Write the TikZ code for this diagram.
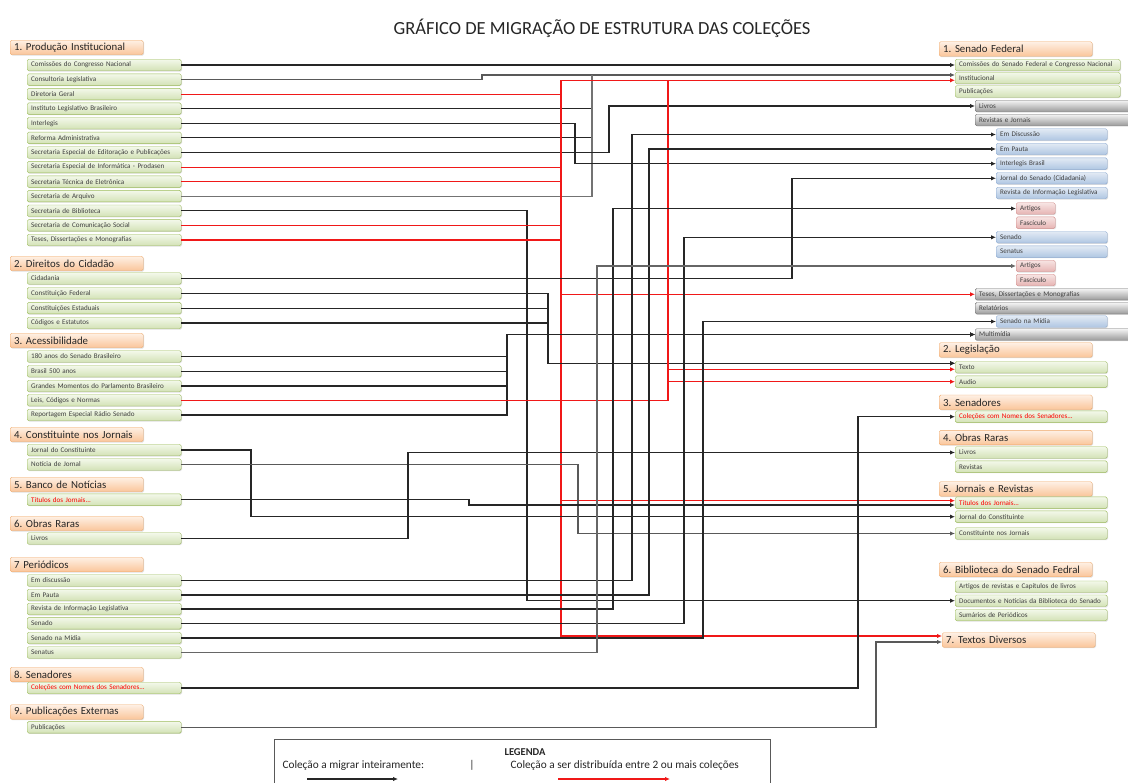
\documentclass[tikz,border=0pt]{standalone}
\usepackage{fontspec}
\setmainfont{Carlito}
\usetikzlibrary{arrows.meta,shadows}
\frenchspacing

\definecolor{grnA}{HTML}{F3F8EA}
\definecolor{grnB}{HTML}{D3E2B6}
\definecolor{grnD}{HTML}{9BBB59}
\definecolor{orgA}{HTML}{FEF0E4}
\definecolor{orgB}{HTML}{FAC59A}
\definecolor{orgD}{HTML}{F0A868}
\definecolor{gryA}{HTML}{F4F4F4}
\definecolor{gryB}{HTML}{9A9A9A}
\definecolor{gryD}{HTML}{6A6A6A}
\definecolor{bluA}{HTML}{E2EAF4}
\definecolor{bluB}{HTML}{AFC6E2}
\definecolor{bluD}{HTML}{8AA9D2}
\definecolor{pnkA}{HTML}{F7E4E3}
\definecolor{pnkB}{HTML}{E6B4B3}
\definecolor{pnkD}{HTML}{D38C8A}
\definecolor{redln}{HTML}{F01818}

\begin{document}
\begin{tikzpicture}[x=1pt, y=-1pt, >={Latex[length=5pt,width=4.5pt]},
    box/.style={anchor=west, rounded corners=1.5pt, inner xsep=4pt, inner ysep=0pt, minimum height=11.5pt, align=left, text=black!75, font=\fontsize{7.1}{8}\selectfont, drop shadow={shadow xshift=0.8pt, shadow yshift=-0.8pt, opacity=0.25}},
    litem/.style={box, draw=grnD, top color=grnA, bottom color=grnB, text width=146pt},
    ritem/.style={box, draw=grnD, top color=grnA, bottom color=grnB, text width=144pt},
    ritemw/.style={box, draw=grnD, top color=grnA, bottom color=grnB, text width=157pt},
    gitem/.style={box, draw=gryD, top color=gryA, bottom color=gryB, text width=147pt},
    bitem/.style={box, draw=bluD, top color=bluA, bottom color=bluB, text width=103pt},
    pitem/.style={box, draw=pnkD, top color=pnkA, bottom color=pnkB, text width=31pt},
    head/.style={box, draw=orgD, top color=orgA, bottom color=orgB, minimum height=14.5pt, text=black!85, font=\fontsize{10.8}{12}\selectfont},
    lhead/.style={head, text width=125pt},
    rhead/.style={head, text width=145pt},
    lnk/.style={draw=black!85, line width=1.15pt},
    blk/.style={lnk, ->},
    rln/.style={draw=redln, line width=1.15pt},
    rarr/.style={rln, ->},
    legtxt/.style={font=\fontsize{11.3}{13}\selectfont, text=black!85}]
  \useasboundingbox (0,0) rectangle (1128,783);
  \fill[white] (0,0) rectangle (1128,783);

  \node[font=\fontsize{18.5}{20}\selectfont, text=black!85] (title) at (602,28) {GRÁFICO DE MIGRAÇÃO DE ESTRUTURA DAS COLEÇÕES};

  % left column
  \node[lhead] (pi) at (10,47.5) {1. Produção Institucional};
  \node[litem] (pi1) at (27,65) {Comissões do Congresso Nacional};
  \node[litem] (pi2) at (27,79.6) {Consultoria Legislativa};
  \node[litem] (pi3) at (27,94.2) {Diretoria Geral};
  \node[litem] (pi4) at (27,108.7) {Instituto Legislativo Brasileiro};
  \node[litem] (pi5) at (27,123.3) {Interlegis};
  \node[litem] (pi6) at (27,137.9) {Reforma Administrativa};
  \node[litem] (pi7) at (27,152.5) {Secretaria Especial de Editoração e Publicações};
  \node[litem] (pi8) at (27,167.1) {Secretaria Especial de Informática - Prodasen};
  \node[litem] (pi9) at (27,181.6) {Secretaria Técnica de Eletrônica};
  \node[litem] (pi10) at (27,196.2) {Secretaria de Arquivo};
  \node[litem] (pi11) at (27,210.8) {Secretaria de Biblioteca};
  \node[litem] (pi12) at (27,225.4) {Secretaria de Comunicação Social};
  \node[litem] (pi13) at (27,240) {Teses, Dissertações e Monografias};

  \node[lhead] (dc) at (10,263.5) {2. Direitos do Cidadão};
  \node[litem] (dc1) at (27,278.5) {Cidadania};
  \node[litem] (dc2) at (27,293.3) {Constituição Federal};
  \node[litem] (dc3) at (27,308.2) {Constituições Estaduais};
  \node[litem] (dc4) at (27,323) {Códigos e Estatutos};

  \node[lhead] (ac) at (10,340.5) {3. Acessibilidade};
  \node[litem] (ac1) at (27,356.5) {180 anos do Senado Brasileiro};
  \node[litem] (ac2) at (27,371.3) {Brasil 500 anos};
  \node[litem] (ac3) at (27,386) {Grandes Momentos do Parlamento Brasileiro};
  \node[litem] (ac4) at (27,400.3) {Leis, Códigos e Normas};
  \node[litem] (ac5) at (27,415) {Reportagem Especial Rádio Senado};

  \node[lhead] (cj) at (10,434.5) {4. Constituinte nos Jornais};
  \node[litem] (cj1) at (27,450) {Jornal do Constituinte};
  \node[litem] (cj2) at (27,464.5) {Notícia de Jornal};

  \node[lhead] (bn) at (10,484.5) {5. Banco de Notícias};
  \node[litem, text=red] (bn1) at (27,499.7) {Títulos dos Jornais...};

  \node[lhead] (orr) at (10,523.5) {6. Obras Raras};
  \node[litem] (orr1) at (27,538.5) {Livros};

  \node[lhead] (pe) at (10,564.5) {7 Periódicos};
  \node[litem] (pe1) at (27,580.5) {Em discussão};
  \node[litem] (pe2) at (27,595) {Em Pauta};
  \node[litem] (pe3) at (27,609) {Revista de Informação Legislativa};
  \node[litem] (pe4) at (27,623.3) {Senado};
  \node[litem] (pe5) at (27,638) {Senado na Mídia};
  \node[litem] (pe6) at (27,652.5) {Senatus};

  \node[lhead] (se) at (10,674.5) {8. Senadores};
  \node[litem, text=red] (se1) at (27,688) {Coleções com Nomes dos Senadores...};

  \node[lhead] (pu) at (10,712) {9. Publicações Externas};
  \node[litem] (pu1) at (27,727.3) {Publicações};

  % right column
  \node[rhead] (sf) at (939,49) {1. Senado Federal};
  \node[ritemw] (sf1) at (955,65) {Comissões do Senado Federal e Congresso Nacional};
  \node[ritemw] (sf2) at (955,78) {Institucional};
  \node[ritemw] (sf3) at (955,91.5) {Publicações};
  \node[gitem] (sfl) at (975,106) {Livros};
  \node[gitem] (sfr) at (975,120) {Revistas e Jornais};
  \node[bitem] (sfd) at (996,134.5) {Em Discussão};
  \node[bitem] (sfp) at (996,149) {Em Pauta};
  \node[bitem] (sfi) at (996,163.7) {Interlegis Brasil};
  \node[bitem] (sfj) at (996,178.3) {Jornal do Senado (Cidadania)};
  \node[bitem] (sfv) at (996,193) {Revista de Informação Legislativa};
  \node[pitem] (sfa1) at (1016,208.5) {Artigos};
  \node[pitem] (sff1) at (1016,222.7) {Fascículo};
  \node[bitem] (sfs) at (996,237.3) {Senado};
  \node[bitem] (sft) at (996,251.7) {Senatus};
  \node[pitem] (sfa2) at (1016,266) {Artigos};
  \node[pitem] (sff2) at (1016,280) {Fascículo};
  \node[gitem] (sfm) at (975,294.3) {Teses, Dissertações e Monografias};
  \node[gitem] (sfe) at (975,308.3) {Relatórios};
  \node[bitem] (sfn) at (996,321.5) {Senado na Mídia};
  \node[gitem] (sfu) at (975,334.5) {Multimídia};

  \node[rhead] (lg) at (939,350) {2. Legislação};
  \node[ritem] (lg1) at (955,367.3) {Texto};
  \node[ritem] (lg2) at (955,381.7) {Audio};

  \node[rhead] (sn) at (939,402.3) {3. Senadores};
  \node[ritem, text=red] (sn1) at (955,416.7) {Coleções com Nomes dos Senadores...};

  \node[rhead] (rr) at (939,437.7) {4. Obras Raras};
  \node[ritem] (rr1) at (955,452.5) {Livros};
  \node[ritem] (rr2) at (955,466.7) {Revistas};

  \node[rhead] (jr) at (939,489) {5. Jornais e Revistas};
  \node[ritem, text=red] (jr1) at (955,502.7) {Títulos dos Jornais...};
  \node[ritem] (jr2) at (955,516.7) {Jornal do Constituinte};
  \node[ritem] (jr3) at (955,533.5) {Constituinte nos Jornais};

  \node[rhead] (bs) at (939,569.5) {6. Biblioteca do Senado Fedral};
  \node[ritem] (bs1) at (955,586.7) {Artigos de revistas e Capítulos de livros};
  \node[ritem] (bs2) at (955,600.7) {Documentos e Notícias da Biblioteca do Senado};
  \node[ritem] (bs3) at (955,615) {Sumários de Periódicos};

  \node[rhead] (td) at (942,640) {7. Textos Diversos};

  % arrow ends where two connectors meet one box
  \coordinate (sf2k) at ([yshift=3pt]sf2.west);
  \coordinate (sf2r) at ([yshift=-2.3pt]sf2.west);
  \coordinate (lg1k) at ([yshift=4pt]lg1.west);
  \coordinate (lg1r) at ([yshift=-2pt]lg1.west);
  \coordinate (jr1r) at ([yshift=2pt]jr1.west);
  \coordinate (jr1k) at ([yshift=-2.3pt]jr1.west);
  \coordinate (tdr) at ([yshift=4pt]td.west);
  \coordinate (tdk) at ([yshift=-2pt]td.west);

  % vertical runs
  \coordinate (xcjo) at (251,0);
  \coordinate (xlivr) at (408,0);
  \coordinate (xtit) at (469,0);
  \coordinate (xcons) at (482,0);
  \coordinate (xace) at (507,0);
  \coordinate (xbib) at (527,0);
  \coordinate (xleg) at (548,0);
  \coordinate (xred) at (561,0);
  \coordinate (xintl) at (575,0);
  \coordinate (xnot) at (578,0);
  \coordinate (xbus) at (592,0);
  \coordinate (xsnt) at (597,0);
  \coordinate (xedit) at (609,0);
  \coordinate (xrev) at (613,0);
  \coordinate (xdisc) at (632,0);
  \coordinate (xpau) at (649,0);
  \coordinate (xleis) at (668,0);
  \coordinate (xsen) at (684,0);
  \coordinate (xmid) at (703,0);
  \coordinate (xcid) at (792,0);
  \coordinate (xsend) at (858,0);
  \coordinate (xpub) at (876,0);

  % 1. Producao Institucional
  \draw[blk] (pi1.east) -- (sf1.west);
  \draw[blk, draw=black!65] (pi2.east) -| (sf2k -| xcons) -- (sf2k);
  \draw[lnk] (pi4.east) -| (sf2k -| xbus);
  \draw[lnk] (pi6.east) -| (sf2k -| xbus);
  \draw[lnk, draw=black!55] (pi10.east) -| (sf2k -| xbus);
  \draw[blk] (pi5.east) -| (sfi.west -| xintl) -- (sfi.west);
  \draw[blk] (pi7.east) -| (sfl.west -| xedit) -- (sfl.west);
  \draw[blk] (pi11.east) -| (bs2.west -| xbib) -- (bs2.west);
  \draw[rln] (pi3.east) -- (pi3.east -| xred);
  \draw[rln] (pi8.east) -- (pi8.east -| xred);
  \draw[rln] (pi9.east) -- (pi9.east -| xred);
  \draw[rln] (pi12.east) -- (pi12.east -| xred);
  \draw[rln] (pi13.east) -- (pi13.east -| xred);
  \draw[rln, <->] (sf2r) -| (tdr -| xred) -- (tdr);
  \draw[rarr] (sfm.west -| xred) -- (sfm.west);
  \draw[rarr] (jr1r -| xred) -- (jr1r);

  % 2. Direitos do Cidadao
  \draw[blk] (dc1.east) -| (sfj.west -| xcid) -- (sfj.west);
  \draw[blk] (dc2.east) -| (lg1k -| xleg) -- (lg1k);
  \draw[blk] (dc3.east) -| (lg1k -| xleg) -- (lg1k);
  \draw[blk] (dc4.east) -| (lg1k -| xleg) -- (lg1k);

  % 3. Acessibilidade
  \draw[blk] (ac1.east) -| (sfu.west -| xace) -- (sfu.west);
  \draw[blk] (ac2.east) -| (sfu.west -| xace) -- (sfu.west);
  \draw[blk] (ac3.east) -| (sfu.west -| xace) -- (sfu.west);
  \draw[blk] (ac5.east) -| (sfu.west -| xace) -- (sfu.west);
  \draw[rln] (ac4.east) -| (sf2r -| xleis);
  \draw[rarr] (lg1r -| xleis) -- (lg1r);
  \draw[rarr] (lg2.west -| xleis) -- (lg2.west);

  % 4. to 6.
  \draw[blk] (cj1.east) -| (jr2.west -| xcjo) -- (jr2.west);
  \draw[blk, draw=black!65] (cj2.east) -| (jr3.west -| xnot) -- (jr3.west);
  \draw[blk] (bn1.east) -| (jr1k -| xtit) -- (jr1k);
  \draw[blk] (orr1.east) -| (rr1.west -| xlivr) -- (rr1.west);

  % 7. Periodicos
  \draw[blk] (pe1.east) -| (sfd.west -| xdisc) -- (sfd.west);
  \draw[blk] (pe2.east) -| (sfp.west -| xpau) -- (sfp.west);
  \draw[blk] (pe3.east) -| (sfa1.west -| xrev) -- (sfa1.west);
  \draw[blk] (pe4.east) -| (sfs.west -| xsen) -- (sfs.west);
  \draw[blk] (pe5.east) -| (sfn.west -| xmid) -- (sfn.west);
  \draw[blk, draw=black!60] (pe6.east) -| (sfa2.west -| xsnt) -- (sfa2.west);

  % 8. and 9.
  \draw[blk] (se1.east) -| (sn1.west -| xsend) -- (sn1.west);
  \draw[blk, draw=black!65] (pu1.east) -| (tdk -| xpub) -- (tdk);

  % legenda
  \node[draw=black!65, line width=1pt, anchor=north west, minimum width=496pt, minimum height=60pt] (leg) at (274,739) {};
  \node[legtxt, font=\bfseries\fontsize{10.5}{12}\selectfont] (legt) at (525,752) {LEGENDA};
  \node[legtxt, anchor=west] (leg1) at (279,765.5) {Coleção a migrar inteiramente:};
  \node[legtxt] (legs) at (472,765.5) {|};
  \node[legtxt, anchor=west] (leg2) at (507,765.5) {Coleção a ser distribuída entre 2 ou mais coleções};
  \coordinate (lka) at (307,779);
  \coordinate (lkb) at (398,779);
  \coordinate (lra) at (558,779);
  \coordinate (lrb) at (670,779);
  \draw[blk] (lka) -- (lkb);
  \draw[rarr] (lra) -- (lrb);
\end{tikzpicture}
\end{document}
